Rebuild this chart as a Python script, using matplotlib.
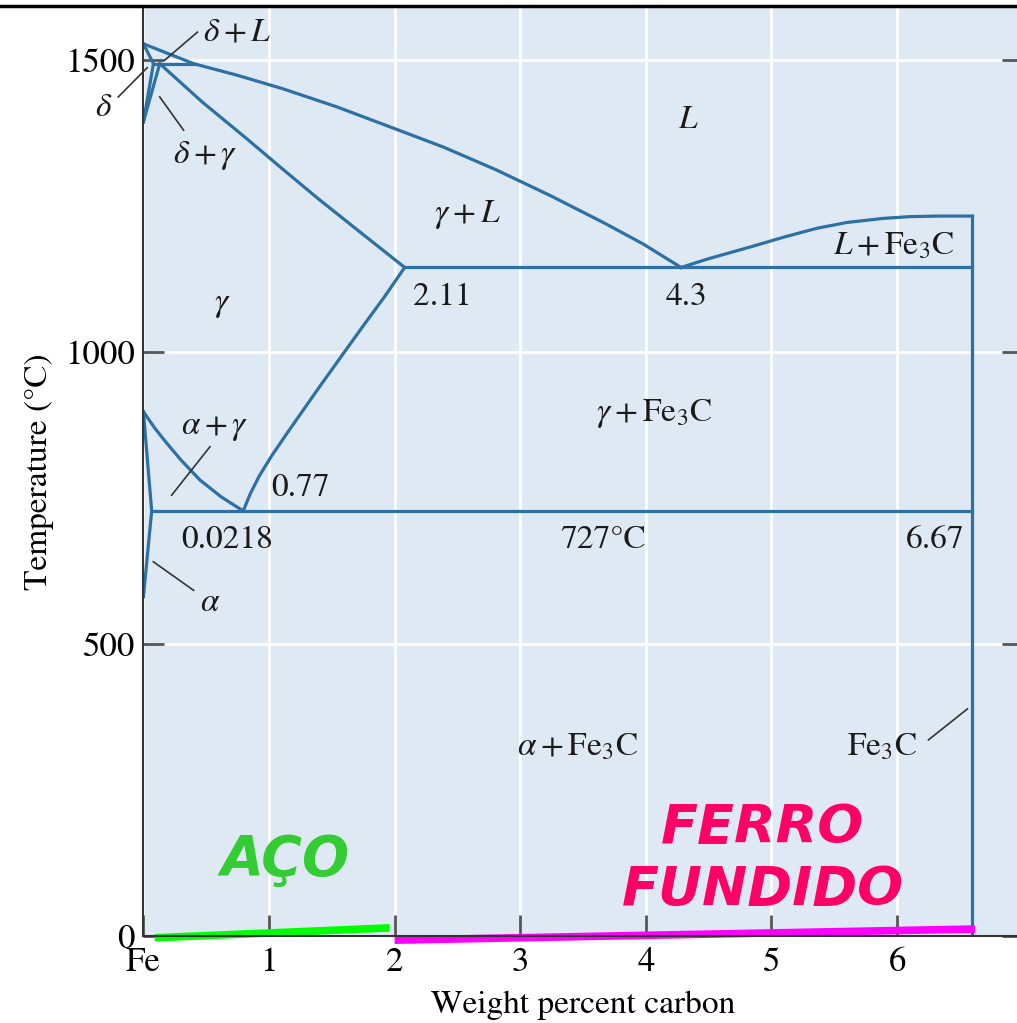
import matplotlib
matplotlib.use('Agg')
import matplotlib.pyplot as plt
from matplotlib.lines import Line2D

plt.rcParams['mathtext.fontset'] = 'stix'
plt.rcParams['font.family'] = 'STIXGeneral'

# phase boundaries (wt% C, deg C)
liquidus_x = [0.0, 0.40, 0.75, 1.11, 1.54, 1.96, 2.39, 2.81, 3.24, 3.67, 3.98, 4.28]
liquidus_t = [1528, 1494, 1474, 1451, 1420, 1386, 1351, 1312, 1268, 1221, 1185, 1145]
liquidus2_x = [4.28, 4.50, 4.83, 5.10, 5.36, 5.60, 5.89, 6.10, 6.32, 6.60]
liquidus2_t = [1145, 1160, 1180, 1197, 1212, 1222, 1229, 1232, 1233, 1233]
solidus_x = [0.13, 0.47, 0.82, 1.10, 1.39, 1.74, 2.08]
solidus_t = [1494, 1428, 1366, 1315, 1263, 1203, 1145]
delta_x = [0.0, 0.08, 0.0]
delta_t = [1528, 1494, 1394]
dg_x = [0.13, 0.0]
dg_t = [1494, 1394]
peritectic_x = [0.08, 0.40]
peritectic_t = [1494, 1494]
a3_x = [0.0, 0.09, 0.186, 0.30, 0.45, 0.62, 0.795]
a3_t = [898, 870, 844, 815, 781, 752, 728]
alpha_x = [0.0, 0.066, 0.0]
alpha_t = [898, 728, 581]
acm_x = [0.795, 0.85, 0.92, 1.02, 1.14, 1.27, 1.41, 1.58, 1.75, 1.92, 2.08]
acm_t = [728, 757, 787, 822, 860, 900, 943, 994, 1045, 1095, 1145]
eutectic_x = [2.08, 6.60]
eutectic_t = [1145, 1145]
eutectoid_x = [0.066, 6.60]
eutectoid_t = [728, 728]
cementite_x = [6.60, 6.60]
cementite_t = [0, 1233]

xticks = [0, 1, 2, 3, 4, 5, 6]
xticklabels = ['Fe', '1', '2', '3', '4', '5', '6']
yticks = [0, 500, 1000, 1500]

# region labels: (x, T, text)
labels = [
    (0.75, 1546, r'$\delta + L$'),
    (-0.32, 1418, r'$\delta$'),
    (0.49, 1337, r'$\delta + \gamma$'),
    (4.34, 1397, r'$L$'),
    (2.58, 1235, r'$\gamma + L$'),
    (5.97, 1181, r'$L + \mathrm{Fe_3C}$'),
    (0.63, 1080, r'$\gamma$'),
    (0.57, 870, r'$\alpha + \gamma$'),
    (4.07, 895, r'$\gamma + \mathrm{Fe_3C}$'),
    (0.53, 570, r'$\alpha$'),
    (3.46, 324, r'$\alpha + \mathrm{Fe_3C}$'),
    (5.88, 324, r'$\mathrm{Fe_3C}$'),
]
numbers = [
    (2.38, 1094, '2.11'),
    (4.32, 1094, '4.3'),
    (1.25, 767, '0.77'),
    (0.67, 678, '0.0218'),
    (3.66, 678, '727°C'),
    (6.30, 678, '6.67'),
]
# leader lines: ((x0, T0), (x1, T1))
leaders = [
    ((0.43, 1548), (0.17, 1500)),
    ((-0.2, 1437), (0.03, 1487)),
    ((0.32, 1380), (0.13, 1437)),
    ((0.53, 838), (0.225, 755)),
    ((0.079, 641), (0.40, 592)),
    ((6.25, 336), (6.56, 389)),
]
# highlighted ranges under the axis
aco_x = [0.09, 1.96]
aco_t = [-3, 14]
ferro_x = [2.0, 6.62]
ferro_t = [-7, 12]

fig = plt.figure(figsize=(10.17, 10.23), dpi=100)
ax = fig.add_axes([0.141, 0.085, 0.8646, 0.907])
ax.set_facecolor('#dfe9f4')
ax.set_xlim(0, 7.0)
ax.set_ylim(0, 1589)

ax.set_xticks(xticks)
ax.set_xticklabels(xticklabels)
ax.set_yticks(yticks)
ax.grid(True, color='white', lw=2)
ax.set_axisbelow(True)
ax.tick_params(direction='in', length=15, width=2, color='#555555', labelsize=25,
               right=True, left=True, bottom=True)
ax.tick_params(axis='x', pad=8)
ax.tick_params(axis='y', pad=6)
for s in ['top', 'right']:
    ax.spines[s].set_visible(False)
for s in ['left', 'bottom']:
    ax.spines[s].set_color('#333333')
    ax.spines[s].set_linewidth(1.5)

ax.set_xlabel('Weight percent carbon', fontsize=24, labelpad=8)
ax.set_ylabel('Temperature (°C)', fontsize=24, labelpad=8)

blue = '#2c70a4'
lw = 2.3
for xs, ts in [(liquidus_x, liquidus_t), (liquidus2_x, liquidus2_t),
               (solidus_x, solidus_t), (delta_x, delta_t), (dg_x, dg_t),
               (peritectic_x, peritectic_t), (a3_x, a3_t), (alpha_x, alpha_t),
               (acm_x, acm_t), (eutectic_x, eutectic_t),
               (eutectoid_x, eutectoid_t), (cementite_x, cementite_t)]:
    ax.plot(xs, ts, color=blue, lw=lw, solid_joinstyle='round')

for (x0, t0), (x1, t1) in leaders:
    ax.plot([x0, x1], [t0, t1], color='#333333', lw=1.2, clip_on=False)

for x, t, s in labels:
    ax.text(x, t, s, fontsize=24, ha='center', va='center', color='#1a1a1a',
            clip_on=False)
for x, t, s in numbers:
    ax.text(x, t, s, fontsize=24, ha='center', va='center', color='#1a1a1a')

# steel / cast iron marks
ax.plot(aco_x, aco_t, color='#00ff00', lw=5.5, clip_on=False, solid_capstyle='butt')
ax.plot(ferro_x, ferro_t, color='#ff00ff', lw=5.5, clip_on=False, solid_capstyle='butt')
ax.text(1.13, 130, 'AÇO', fontsize=40, fontweight='bold', fontstyle='italic',
        family='DejaVu Sans', color='#33cc33', ha='center', va='center')
ax.text(4.93, 185, 'FERRO', fontsize=39, fontweight='bold', fontstyle='italic',
        family='DejaVu Sans', color='#ff0066', ha='center', va='center')
ax.text(4.93, 79, 'FUNDIDO', fontsize=39, fontweight='bold', fontstyle='italic',
        family='DejaVu Sans', color='#ff0066', ha='center', va='center')

# black border line along the top of the picture
fig.add_artist(Line2D([0, 1], [0.9945, 0.9945], color='black', lw=2.5,
                      transform=fig.transFigure))

fig.savefig('out.png', dpi=100)
